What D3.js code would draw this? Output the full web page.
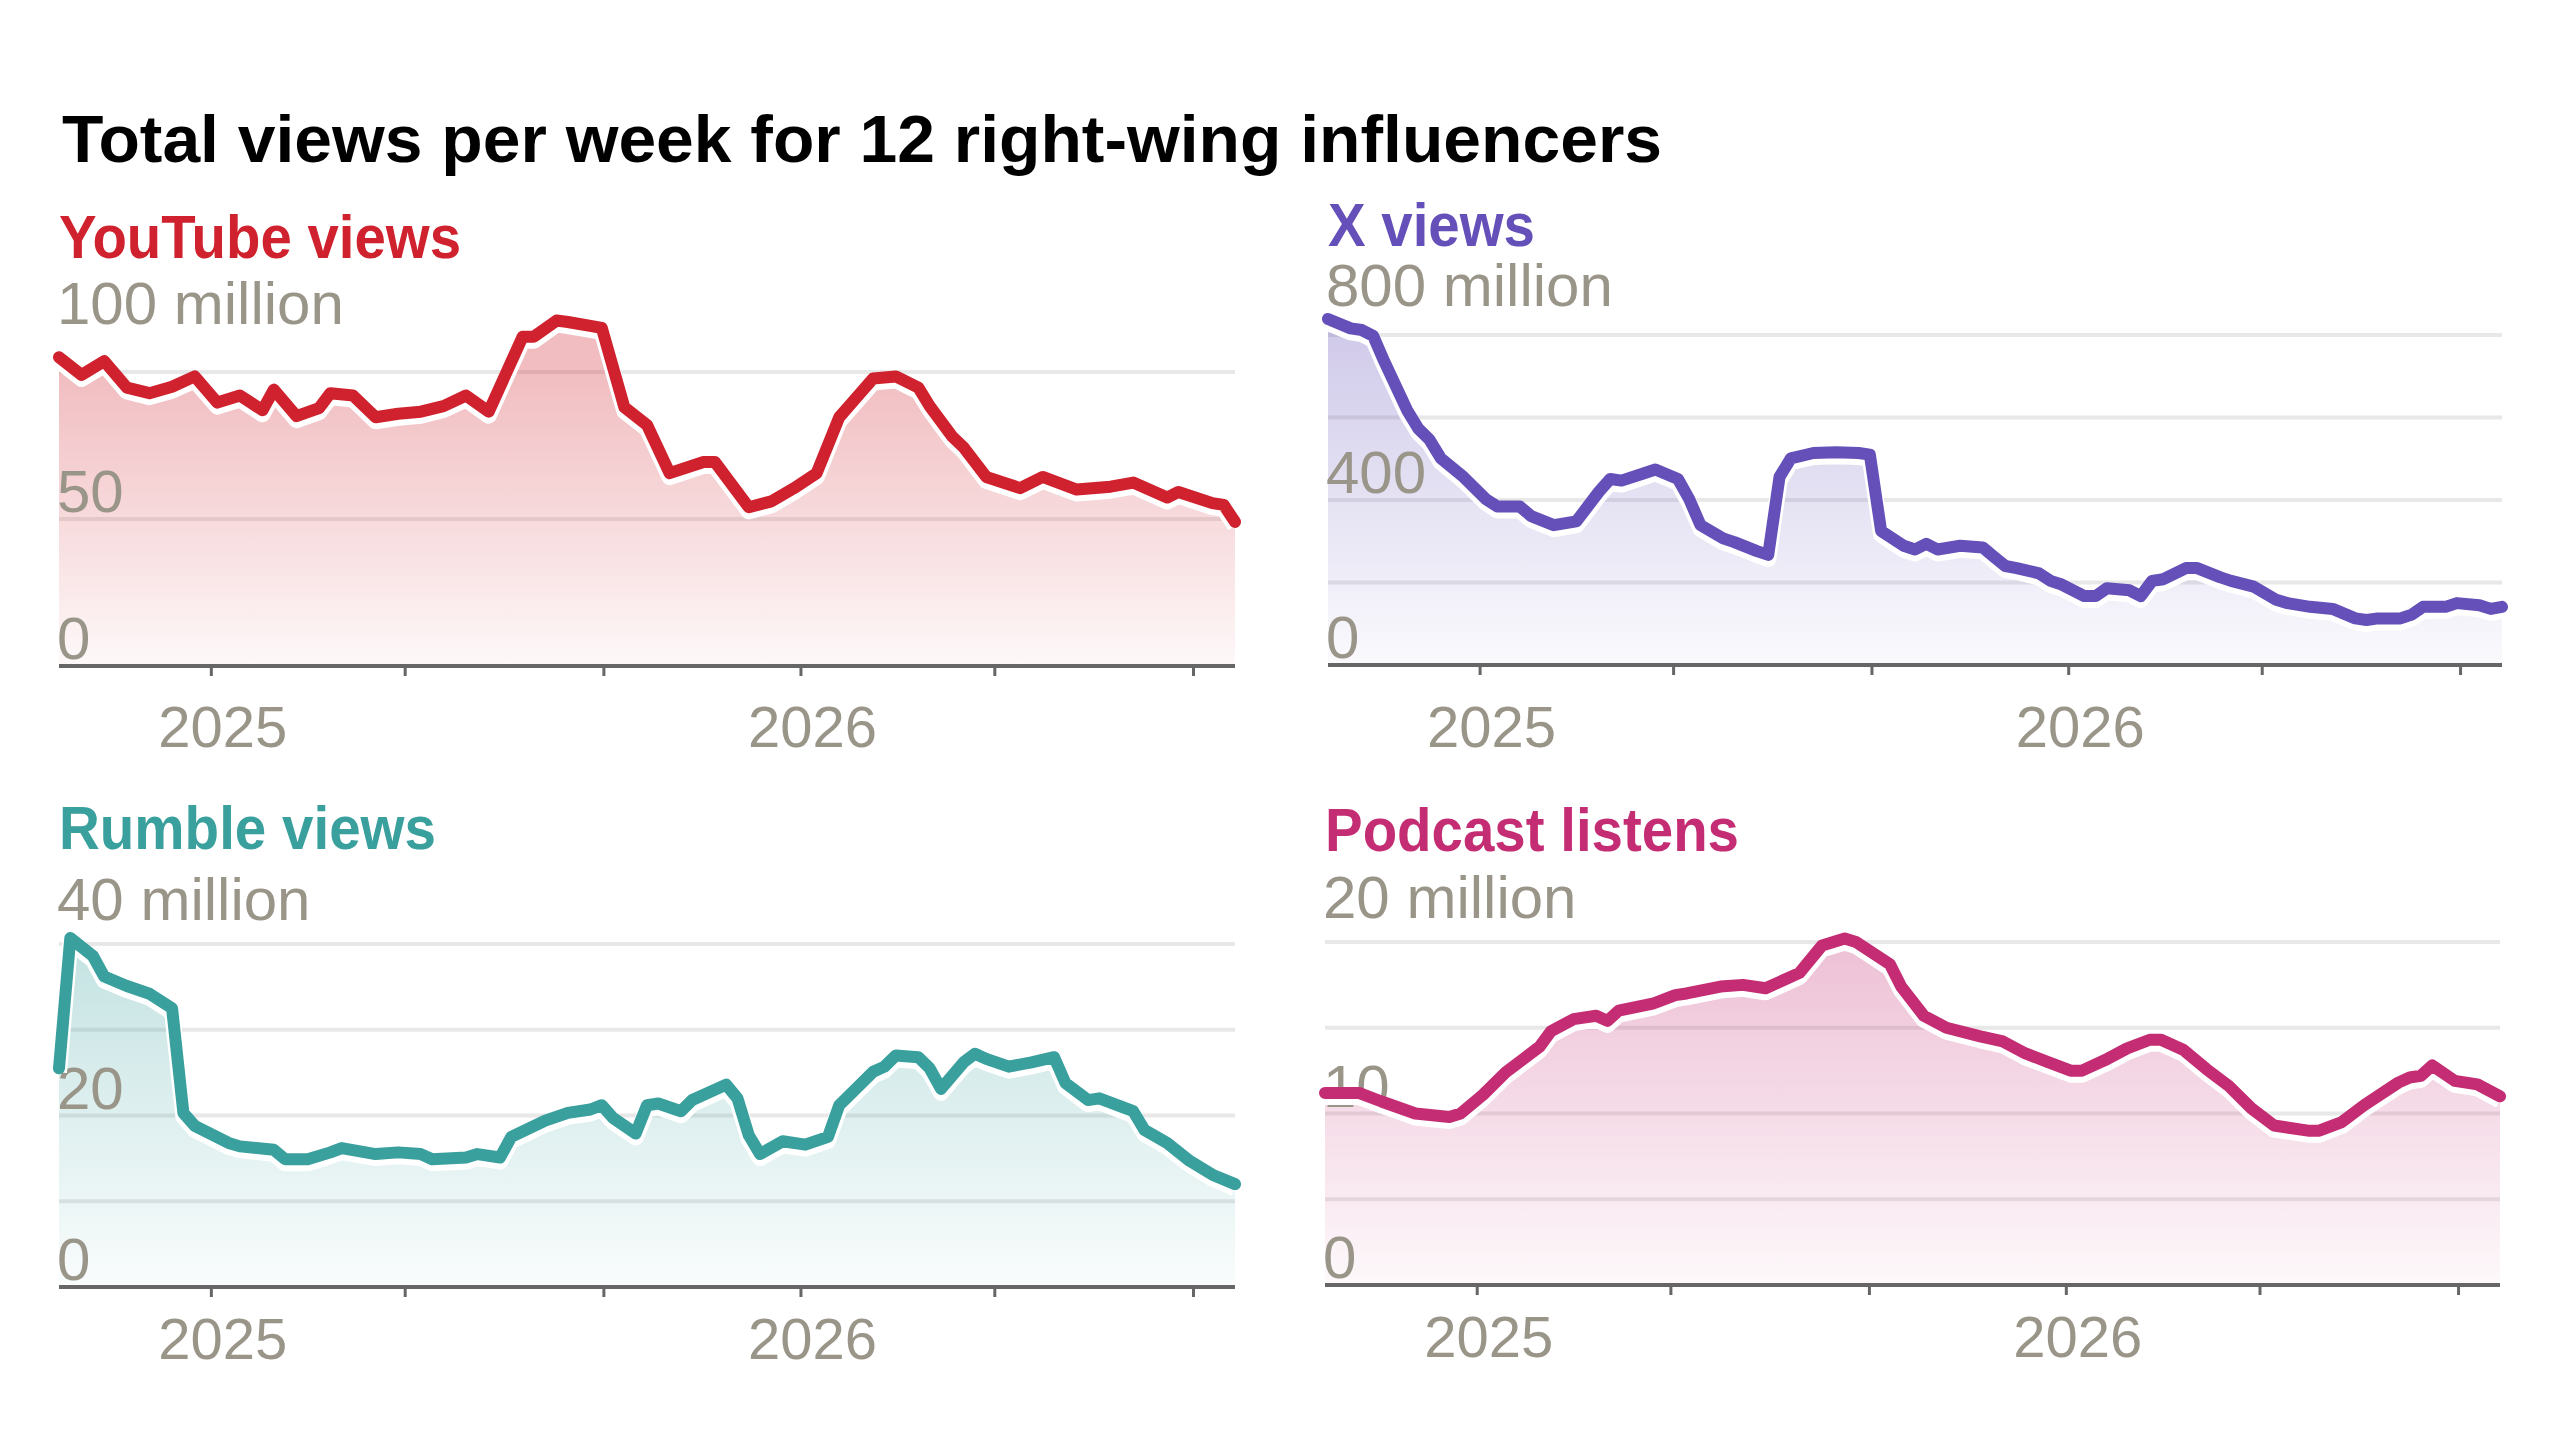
<!DOCTYPE html>
<html>
<head>
<meta charset="utf-8">
<script src="https://cdn.jsdelivr.net/npm/d3@7"></script>
<style>
  body { margin: 0; background: #fff; }
  text { font-family: "Liberation Sans Narrow", "Liberation Sans", Arial, sans-serif; }
</style>
</head>
<body>
<div id="chart"></div>
<script>
// weekly series, week 0 = 2024-09-29
var startDate = new Date(2024, 8, 29);

var youtubeWeeks = [0,2,4,6,8,10,12,14,16,18,19,21,23,24,26,28,30,32,34,36,38,41,42,44,45,48,50,52,54,57,58,61,63,65,67,69,71,72,74,76,77,79,80,82,85,87,90,93,95,98,99,102,103,104];
var youtubeValues = [105,99,103.7,94.7,92.8,95,98.5,89.6,92,87,94,85,87.7,92.8,92,84.6,85.8,86.5,88.4,92,86.5,112,112,117.5,117,115,88,82,65.6,69.4,69.4,54,56,60.5,65.6,84.6,93.4,97.8,98.5,94.7,88.4,78,74.4,64.3,60.5,64.3,60,61,62.4,57.3,59.2,55.4,54.8,49];

var xWeeks = [0,2,3,4,5,7,8,9,10,12,14,15,17,18,20,22,24,25,26,28,29,31,32,33,35,36,38,39,40,41,43,45,47,48,49,51,52,53,54,56,58,59,60,61,63,64,65,67,68,69,71,72,73,74,76,77,79,80,82,84,85,87,89,91,92,93,95,96,97,99,100,102,103,104];
var xValues = [839,816,812,798,735,618,573,546,501,456,402,384,384,361,339,348,420,451,447,465,474,451,402,339,307,298,276,267,456,501,514,516,514,510,325,289,280,294,280,289,285,262,240,235,222,204,195,167,167,186,181,167,204,208,235,235,213,204,190,158,150,141,136,113,109,113,113,122,141,141,150,145,136,141];

var rumbleWeeks = [0,1,3,4,6,8,10,11,12,15,16,19,20,22,24,25,28,30,32,33,36,37,39,40,43,45,47,48,49,51,52,53,55,56,59,60,61,62,64,66,68,69,72,73,74,76,77,78,80,81,82,84,86,88,89,91,92,95,96,98,100,102,104];
var rumbleValues = [25.5,40.7,38.6,36.2,35.1,34.2,32.5,20.3,18.8,16.8,16.4,16.0,14.9,14.9,15.7,16.2,15.5,15.7,15.5,14.9,15.1,15.5,15.1,17.5,19.4,20.3,20.7,21.2,19.7,17.9,21.2,21.4,20.5,21.8,23.6,22.0,17.7,15.5,17.0,16.6,17.5,21.2,25.1,25.7,27.0,26.8,25.5,23.1,26.2,27.2,26.6,25.7,26.2,26.8,23.8,21.8,22.0,20.5,18.3,16.8,14.7,13.1,12.0];

var podcastWeeks = [0,3,5,8,11,12,14,16,17,19,20,22,24,25,26,29,31,32,35,37,39,42,44,46,47,50,51,53,55,58,60,62,64,66,67,69,71,73,74,76,78,80,82,84,87,88,90,92,95,96,97,98,100,102,104];
var podcastValues = [11.2,11.2,10.7,10.0,9.8,10.0,11.1,12.4,12.9,13.9,14.8,15.5,15.7,15.4,16.0,16.4,16.9,17.0,17.4,17.5,17.3,18.2,19.8,20.2,20.0,18.7,17.4,15.7,15.0,14.5,14.2,13.5,13.0,12.5,12.5,13.1,13.8,14.3,14.3,13.7,12.6,11.6,10.3,9.3,9.0,9.0,9.5,10.5,11.8,12.1,12.2,12.8,11.9,11.7,11.0];

var yearLabels = ["2025", "2026"];

var panels = [
  { name: "YouTube views", color: "#d0222e", weeks: youtubeWeeks, values: youtubeValues,
    top: 100, step: 50, labels: [[100, "100 million"], [50, "50"], [0, "0"]], titleW: 402,
    x0: 59, x1: 1235, yTop: 372, yBase: 666, titleY: 258, topLabelY: 324, yearY: 747 },
  { name: "X views", color: "#6450b8", weeks: xWeeks, values: xValues,
    top: 800, step: 200, labels: [[800, "800 million"], [400, "400"], [0, "0"]], titleW: 207,
    x0: 1328, x1: 2502, yTop: 335, yBase: 665, titleY: 246, topLabelY: 306, yearY: 747 },
  { name: "Rumble views", color: "#3aa09e", weeks: rumbleWeeks, values: rumbleValues,
    top: 40, step: 10, labels: [[40, "40 million"], [20, "20"], [0, "0"]], titleW: 377,
    x0: 59, x1: 1235, yTop: 944, yBase: 1287, titleY: 849, topLabelY: 920, yearY: 1359 },
  { name: "Podcast listens", color: "#c42d73", weeks: podcastWeeks, values: podcastValues,
    top: 20, step: 5, labels: [[20, "20 million"], [10, "10"], [0, "0"]], titleW: 414,
    x0: 1325, x1: 2500, yTop: 942, yBase: 1285, titleY: 851, topLabelY: 918, yearY: 1357 }
];

var svg = d3.select("#chart").append("svg")
    .attr("width", 2560)
    .attr("height", 1442);

svg.append("text")
    .attr("x", 62)
    .attr("y", 162)
    .attr("font-size", 66)
    .attr("font-weight", "bold")
    .attr("fill", "#000")
    .attr("textLength", 1600)
    .attr("lengthAdjust", "spacingAndGlyphs")
    .text("Total views per week for 12 right-wing influencers");

function weekDate(w) {
    return d3.timeDay.offset(startDate, w * 7);
}

panels.forEach(function (p, i) {
    var data = p.weeks.map(function (w, j) { return { date: weekDate(w), value: p.values[j] }; });

    var x = d3.scaleTime()
        .domain([startDate, weekDate(104)])
        .range([p.x0, p.x1]);
    var y = d3.scaleLinear()
        .domain([0, p.top])
        .range([p.yBase, p.yTop]);

    var g = svg.append("g");

    // gridlines
    g.selectAll(".grid")
        .data(d3.range(p.step, p.top + 1, p.step))
        .enter()
        .append("line")
        .attr("x1", p.x0).attr("x2", p.x1)
        .attr("y1", d => y(d)).attr("y2", d => y(d))
        .attr("stroke", "#e8e8e8")
        .attr("stroke-width", 4);

    // gradient area
    var gradId = "grad" + i;
    var grad = svg.append("defs").append("linearGradient")
        .attr("id", gradId)
        .attr("gradientUnits", "userSpaceOnUse")
        .attr("x1", 0).attr("x2", 0)
        .attr("y1", y(p.top)).attr("y2", p.yBase);
    grad.append("stop").attr("offset", "0%").attr("stop-color", p.color).attr("stop-opacity", 0.3);
    grad.append("stop").attr("offset", "100%").attr("stop-color", p.color).attr("stop-opacity", 0.03);

    var area = d3.area()
        .x(d => x(d.date))
        .y0(p.yBase)
        .y1(d => y(d.value));
    g.append("path")
        .datum(data)
        .attr("d", area)
        .attr("fill", "url(#" + gradId + ")");

    // value labels
    g.selectAll(".ylabel")
        .data(p.labels)
        .enter()
        .append("text")
        .attr("x", p.x0 - 2)
        .attr("y", d => d[0] === p.top ? p.topLabelY : y(d[0]) - 7)
        .attr("font-size", 60)
        .attr("fill", "#999588")
        .text(d => d[1]);

    // line with white halo
    var line = d3.line()
        .x(d => x(d.date))
        .y(d => y(d.value));
    g.append("path")
        .datum(data)
        .attr("d", line)
        .attr("fill", "none")
        .attr("stroke", "#fff")
        .attr("stroke-width", 16)
        .attr("stroke-linejoin", "round")
        .attr("transform", "translate(0,4)");
    g.append("path")
        .datum(data)
        .attr("d", line)
        .attr("fill", "none")
        .attr("stroke", p.color)
        .attr("stroke-width", 12)
        .attr("stroke-linejoin", "round")
        .attr("stroke-linecap", "round");

    // x axis
    var axis = d3.axisBottom(x)
        .ticks(d3.timeMonth.every(4))
        .tickSize(10)
        .tickFormat("");
    var ax = g.append("g")
        .attr("transform", `translate(0, ${p.yBase})`)
        .call(axis);
    ax.select(".domain").attr("stroke", "#666").attr("stroke-width", 4)
        .attr("d", `M${p.x0},0H${p.x1}`);
    ax.selectAll(".tick line").attr("stroke", "#666").attr("stroke-width", 3);

    g.selectAll(".year")
        .data(yearLabels)
        .enter()
        .append("text")
        .attr("x", d => x(new Date(+d, 0, 1)) + 12)
        .attr("y", p.yearY)
        .attr("text-anchor", "middle")
        .attr("font-size", 58)
        .attr("fill", "#999588")
        .text(d => d);

    // panel title
    g.append("text")
        .attr("x", p.x0)
        .attr("y", p.titleY)
        .attr("font-size", 62)
        .attr("font-weight", "bold")
        .attr("fill", p.color)
        .attr("textLength", p.titleW)
        .attr("lengthAdjust", "spacingAndGlyphs")
        .text(p.name);
});
</script>
</body>
</html>
